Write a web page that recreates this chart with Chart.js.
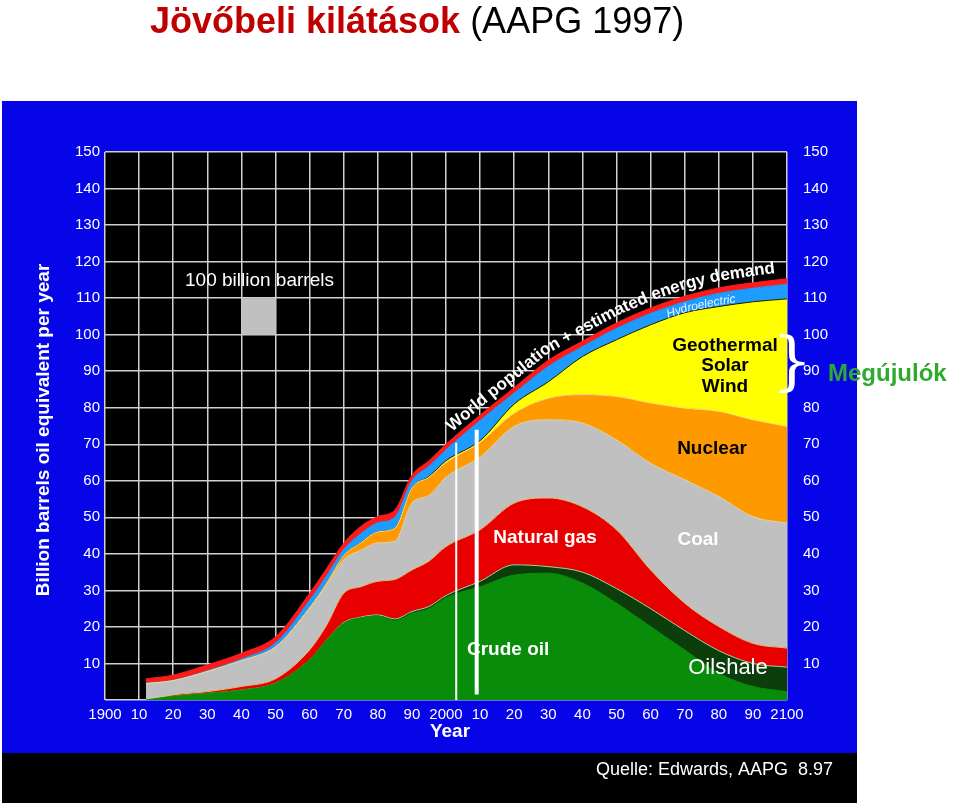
<!DOCTYPE html>
<html>
<head>
<meta charset="utf-8">
<script src="https://cdn.jsdelivr.net/npm/chart.js@4/dist/chart.umd.min.js"></script>
<style>
  html, body { margin: 0; padding: 0; background: #fff; }
  #c { position: absolute; left: 0; top: 0; }
</style>
</head>
<body>
<canvas id="c" width="960" height="805"></canvas>
<script>
// ======= DATA (layer thickness, billion barrels oil equivalent / year) =======
const years = [1912, 1920, 1930, 1940, 1950, 1960, 1965, 1970, 1975, 1980, 1985, 1990, 1995, 2000,
  2010, 2020, 2030, 2040, 2050, 2060, 2070, 2080, 2090, 2100];
const crudeOil =   [0, 1.0, 1.8, 2.7, 4.6, 11, 16.4, 21, 22.5, 23, 21.8, 23.7, 25, 28,
  31, 34.2, 34.7, 32, 26.5, 20.1, 13.7, 7.3, 3.7, 2.3];
const oilShale =   [0, 0, 0, 0, 0, 0, 0, 0.2, 0.2, 0.3, 0.4, 0.5, 0.6, 0.6,
  1.5, 2.8, 1.8, 3, 4, 4.9, 5.3, 6.2, 6.3, 6.7];
const naturalGas = [0, 0.4, 0.5, 1.0, 1.2, 2.7, 4.1, 8, 8.3, 9.2, 10.8, 11.4, 12.4, 13.4,
  14.1, 16.9, 18.8, 17.9, 16.1, 10.6, 7.5, 6.6, 5.5, 5.2];
const coal =       [4.5, 3.9, 5.5, 7.1, 8.7, 11.3, 11, 9.2, 10, 10.5, 10.5, 18.3, 18, 19,
  19.9, 21, 21.4, 22.9, 24.6, 29.2, 33.8, 35.6, 34.7, 34.2];
const nuclear =    [0, 0, 0, 0, 0.1, 0.3, 0.5, 1.1, 2, 3, 3.5, 4.1, 5, 4,
  4, 3.6, 5.9, 7.8, 11.9, 16.5, 19.6, 23.3, 26.5, 26.5];
const renewables = [0, 0, 0, 0, 0, 0, 0, 0, 0, 0, 0, 0, 0.2, 0.5,
  0.5, 2.5, 4.5, 10.4, 15.5, 21.4, 26.1, 28.7, 32.3, 34.9];
const hydro =      [0.1, 0.1, 0.2, 0.4, 1.0, 2.0, 2, 1.7, 2.5, 2.5, 3, 2, 2.8, 3,
  5.5, 3, 4.2, 2.7, 3.1, 3.1, 3, 3.6, 3.7, 4];
const demandBand = [1.2, 1.4, 1.6, 1.6, 1.7, 1.9, 2, 1.7, 2, 1.7, 2, 1.5, 1.5, 1.5,
  1.5, 1.5, 1.7, 1.5, 1.5, 1.5, 1.5, 1.5, 1.5, 1.5];

const yTicks = [0, 10, 20, 30, 40, 50, 60, 70, 80, 90, 100, 110, 120, 130, 140, 150];

// ======= DATASETS =======
function layer(label, values, fillColor, lineColor, first) {
  return {
    label: label,
    data: values.map((v, i) => ({ x: years[i], y: v })),
    backgroundColor: fillColor,
    borderColor: lineColor,
    borderWidth: 1,
    pointRadius: 0,
    fill: first ? "origin" : "-1",
    cubicInterpolationMode: "monotone",
  };
}

const datasets = [
  layer("Crude oil", crudeOil, "#098c09", "#098c09", true),
  layer("Oilshale", oilShale, "#0b3e0b", "#9fd79f"),
  layer("Natural gas", naturalGas, "#e80000", "#e8c070"),
  layer("Coal", coal, "#c0c0c0", "#e8d8a0"),
  layer("Nuclear", nuclear, "#ff9900", "#ffe080"),
  layer("Geothermal Solar Wind", renewables, "#ffff00", "#202000"),
  layer("Hydroelectric", hydro, "#1e9bff", "#1e9bff"),
  layer("Demand", demandBand, "#ff1a1a", "#ff1a1a"),
];

// ======= HELPERS =======
function curveY(meta, x) {
  const pts = meta.data;
  for (let i = 0; i < pts.length - 1; i++) {
    if (x >= pts[i].x && x <= pts[i + 1].x) {
      const t = (x - pts[i].x) / (pts[i + 1].x - pts[i].x);
      return pts[i].y + t * (pts[i + 1].y - pts[i].y);
    }
  }
  return pts[pts.length - 1].y;
}

function textAlong(ctx, text, x0, fn) {
  let x = x0;
  for (const ch of text) {
    const w = ctx.measureText(ch).width;
    const a = Math.atan2(fn(x + 3) - fn(x - 3), 6);
    ctx.save();
    ctx.translate(x, fn(x));
    ctx.rotate(a);
    ctx.fillText(ch, 0, 0);
    ctx.restore();
    x += w * Math.cos(a);
  }
}

// ======= PLUGIN: background, labels =======
const decor = {
  id: "decor",
  beforeDraw(chart) {
    const ctx = chart.ctx;
    const a = chart.chartArea;
    ctx.save();
    ctx.fillStyle = "#fff";
    ctx.fillRect(0, 0, 960, 805);
    ctx.fillStyle = "#0505e8";
    ctx.fillRect(2, 101, 855, 652);
    ctx.fillStyle = "#000";
    ctx.fillRect(2, 753, 855, 50);
    ctx.fillRect(a.left, a.top, a.right - a.left, a.bottom - a.top);
    ctx.restore();
  },
  afterDatasetsDraw(chart) {
    const ctx = chart.ctx;
    const xs = chart.scales.x, ys = chart.scales.y;
    ctx.save();

    // 100 billion barrels reference square
    ctx.fillStyle = "#c0c0c0";
    const sx = xs.getPixelForValue(1940), sy = ys.getPixelForValue(110);
    ctx.fillRect(sx, sy, xs.getPixelForValue(1950) - sx, ys.getPixelForValue(100) - sy);
    ctx.fillStyle = "#fff";
    ctx.font = "19px 'Liberation Sans', Arial, sans-serif";
    ctx.textBaseline = "middle";
    ctx.fillText("100 billion barrels", 185, 281);

    // now-lines
    ctx.strokeStyle = "#fff";
    ctx.lineWidth = 2;
    ctx.beginPath();
    ctx.moveTo(xs.getPixelForValue(2003), ys.getPixelForValue(0));
    ctx.lineTo(xs.getPixelForValue(2003), ys.getPixelForValue(70.4));
    ctx.stroke();
    ctx.lineWidth = 4;
    ctx.beginPath();
    ctx.moveTo(xs.getPixelForValue(2009), ys.getPixelForValue(1.5));
    ctx.lineTo(xs.getPixelForValue(2009), ys.getPixelForValue(74));
    ctx.stroke();

    // curved labels
    const topMeta = chart.getDatasetMeta(7);
    ctx.font = "bold 17px 'Liberation Sans', Arial, sans-serif";
    ctx.fillStyle = "#fff";
    ctx.textBaseline = "alphabetic";
    textAlong(ctx, "World population + estimated energy demand", 452, (x) => curveY(topMeta, x) - 7);
    const hMeta = chart.getDatasetMeta(6), rMeta = chart.getDatasetMeta(5);
    ctx.font = "italic 12px 'Liberation Sans', Arial, sans-serif";
    ctx.fillStyle = "#e8f4ff";
    textAlong(ctx, "Hydroelectric", 668, (x) => (curveY(hMeta, x) + curveY(rMeta, x)) / 2 + 5);

    // area labels
    ctx.textAlign = "center";
    ctx.textBaseline = "middle";
    ctx.font = "bold 19px 'Liberation Sans', Arial, sans-serif";
    ctx.fillStyle = "#fff";
    ctx.fillText("Natural gas", 545, 538);
    ctx.fillText("Coal", 698, 540);
    ctx.textAlign = "left";
    ctx.fillText("Crude oil", 467, 650);
    ctx.textAlign = "center";
    ctx.font = "22px 'Liberation Sans', Arial, sans-serif";
    ctx.fillText("Oilshale", 728, 668);
    ctx.fillStyle = "#000";
    ctx.font = "bold 19px 'Liberation Sans', Arial, sans-serif";
    ctx.fillText("Geothermal", 725, 346);
    ctx.fillText("Solar", 725, 366);
    ctx.fillText("Wind", 725, 387);
    ctx.fillText("Nuclear", 712, 449);
    ctx.restore();
  },
  afterDraw(chart) {
    const ctx = chart.ctx;
    ctx.save();
    // title
    ctx.textBaseline = "alphabetic";
    ctx.font = "bold 36px 'Liberation Sans', Arial, sans-serif";
    ctx.fillStyle = "#c00000";
    const t1 = "Jövőbeli kilátások";
    ctx.fillText(t1, 150, 33);
    const w1 = ctx.measureText(t1 + " ").width;
    ctx.font = "36px 'Liberation Sans', Arial, sans-serif";
    ctx.fillStyle = "#000";
    ctx.fillText("(AAPG 1997)", 150 + w1, 33);

    // axis titles
    ctx.fillStyle = "#fff";
    ctx.font = "bold 19px 'Liberation Sans', Arial, sans-serif";
    ctx.textAlign = "center";
    ctx.textBaseline = "middle";
    ctx.fillText("Year", 450, 732);
    ctx.save();
    ctx.translate(44, 430);
    ctx.rotate(-Math.PI / 2);
    ctx.fillText("Billion barrels oil equivalent per year", 0, 0);
    ctx.restore();

    // brace + renewables label
    ctx.font = "64px 'DejaVu Serif', serif";
    ctx.fillText("}", 792, 366);
    ctx.textAlign = "left";
    ctx.fillStyle = "#2eaa2e";
    ctx.font = "bold 24px 'Liberation Sans', Arial, sans-serif";
    ctx.fillText("Megújulók", 828, 374);

    // source
    ctx.fillStyle = "#fff";
    ctx.font = "18px 'Liberation Sans', Arial, sans-serif";
    ctx.fillText("Quelle: Edwards, AAPG  8.97", 596, 770);
    ctx.restore();
  },
};

const tickFont = { family: "'Liberation Sans', Arial, sans-serif", size: 15 };

new Chart(document.getElementById("c"), {
  type: "line",
  data: { datasets: datasets },
  options: {
    responsive: false,
    animation: false,
    layout: { padding: { left: 60, right: 103, top: 152, bottom: 65 } },
    plugins: { legend: { display: false }, tooltip: { enabled: false } },
    scales: {
      x: {
        type: "linear",
        min: 1900,
        max: 2100,
        afterFit: (s) => { s.height = 40; },
        grid: { color: "#d0d0d0", lineWidth: 1.5, drawTicks: false },
        border: { display: false },
        ticks: {
          stepSize: 10,
          color: "#fff",
          font: tickFont,
          padding: 6,
          maxRotation: 0,
          autoSkip: false,
          callback: (v) => (v % 100 === 0 ? String(v) : String(v % 100)),
        },
      },
      y: {
        stacked: true,
        min: 0,
        max: 150,
        afterFit: (s) => { s.width = 45; },
        afterBuildTicks: (s) => { s.ticks = yTicks.map((v) => ({ value: v })); },
        grid: { color: "#d0d0d0", lineWidth: 1.5, drawTicks: false },
        border: { display: false },
        ticks: {
          color: "#fff",
          font: tickFont,
          padding: 5,
          callback: (v) => (v === 0 ? "" : v),
        },
      },
      y2: {
        position: "right",
        min: 0,
        max: 150,
        afterFit: (s) => { s.width = 70; },
        afterBuildTicks: (s) => { s.ticks = yTicks.map((v) => ({ value: v })); },
        grid: { display: false },
        border: { display: false },
        ticks: {
          color: "#fff",
          font: tickFont,
          padding: 8,
          callback: (v) => (v === 0 ? "" : v),
        },
      },
    },
  },
  plugins: [decor],
});
</script>
</body>
</html>
